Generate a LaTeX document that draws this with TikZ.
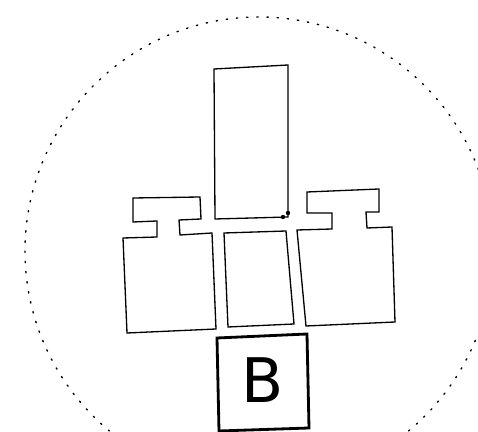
\documentclass[tikz,border=0pt]{standalone}
\usepackage{fontspec}
\usepackage{tikz}
\setsansfont{DejaVu Sans}
\usetikzlibrary{
  arrows.meta,
  positioning,
  calc
}
\definecolor{skInk}{HTML}{000000}
\definecolor{skMute}{HTML}{3A3A3A}
\tikzset{
  outline/.style={draw=skInk, line width=0.75pt, line join=miter},
  heavy/.style={draw=skInk, line width=1.6pt, line join=miter},
  rim/.style={draw=skInk, line width=0.8pt, dash pattern=on 0.8pt off 5pt, line cap=round},
  pin/.style={fill=skInk, draw=none},
  letter/.style={font=\sffamily\fontsize{35}{40}\selectfont, inner sep=0pt}
}

\begin{document}
\begin{tikzpicture}[x=0.02cm, y=-0.02cm]
  \useasboundingbox (0,0) rectangle (478,432);
  \clip (0,0) rectangle (478,432);
  % dotted boundary
  \draw[rim] (259,251) circle[radius=234];
  % tall upper block
  \draw[outline] (214,69) -- (288,65) -- (288,217) -- (215,219) -- cycle;
  \fill[pin] (283,217) circle[radius=2.2];
  \fill[pin] (288,213) circle[radius=2.2];
  % left bottle
  \draw[outline] (133,198) -- (200,197) -- (201,219) -- (179,220) -- (180,235)
    -- (212,233) -- (216,329) -- (127,333) -- (123,238) -- (157,237)
    -- (157,221) -- (133,222) -- cycle;
  % middle block
  \draw[outline] (224,233) -- (286,231) -- (294,324) -- (228,327) -- cycle;
  % right bottle
  \draw[outline] (307,192) -- (379,189) -- (379,212) -- (366,212) -- (367,228)
    -- (392,227) -- (395,322) -- (306,326) -- (297,230) -- (332,229)
    -- (332,213) -- (307,213) -- cycle;
  % B box
  \draw[heavy] (217,338) -- (307,334) -- (309,428) -- (219,431) -- cycle;
  \node[letter] (blabel) at (263,380) {B};
\end{tikzpicture}
\end{document}
